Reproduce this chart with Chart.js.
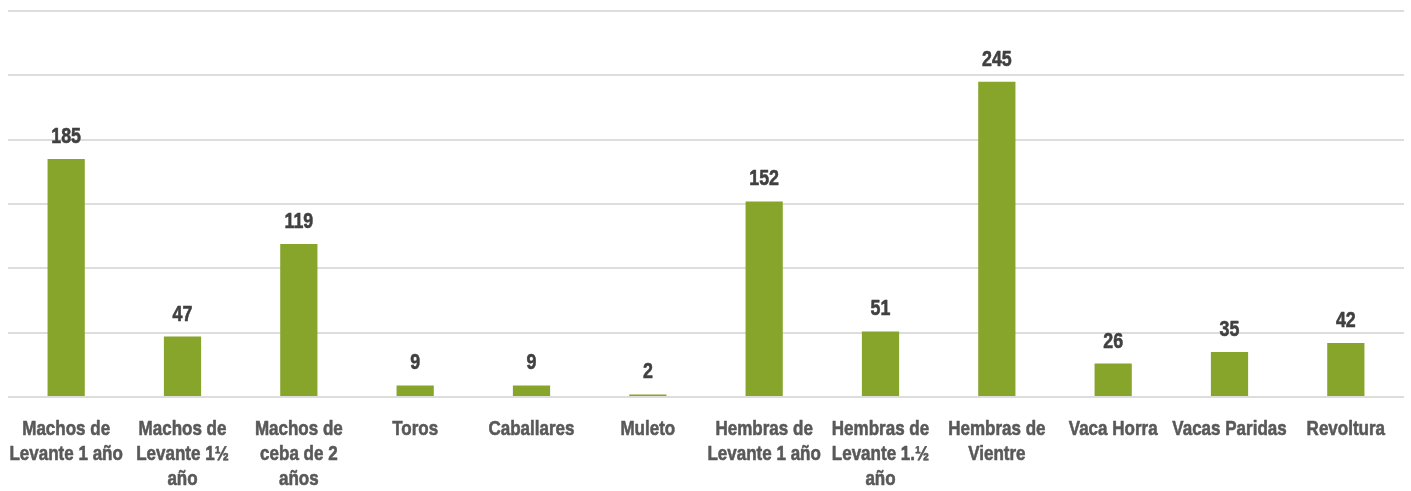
<!DOCTYPE html>
<html lang="es">
<head>
<meta charset="utf-8" />
<title>Inventario bovino</title>
<script src="https://cdn.jsdelivr.net/npm/chart.js@4.4.1/dist/chart.umd.min.js"></script>
<style>
  html, body { margin: 0; padding: 0; background: #fff; }
  #wrap { width: 1411px; height: 491px; }
</style>
</head>
<body>
<div id="wrap"><canvas id="grafico" width="1411" height="491"></canvas></div>
<script>
// categorias (multilinea como en el original)
var categorias = [
  ["Machos de", "Levante 1 año"],
  ["Machos de", "Levante 1½", "año"],
  ["Machos de", "ceba de 2", "años"],
  ["Toros"],
  ["Caballares"],
  ["Muleto"],
  ["Hembras de", "Levante 1 año"],
  ["Hembras de", "Levante 1.½", "año"],
  ["Hembras de", "Vientre"],
  ["Vaca Horra"],
  ["Vacas Paridas"],
  ["Revoltura"]
];
var cantidades = [185, 47, 119, 9, 9, 2, 152, 51, 245, 26, 35, 42];
var ejeMin = 0, ejeMax = 300, paso = 50;

var fuente = "'Liberation Sans', Arial, sans-serif";
var estrecho = 0.81; // la fuente original es condensada

// texto condensado: se dibuja con escala horizontal y un trazo fino para engrosar
function textoEstrecho(ctx, txt, x, y) {
  ctx.save();
  ctx.translate(x, y);
  ctx.scale(estrecho, 1);
  ctx.fillText(txt, 0, 0);
  ctx.strokeText(txt, 0, 0);
  ctx.restore();
}

var textos = {
  id: 'textos',
  afterDatasetsDraw: function(chart) {
    var ctx = chart.ctx;
    var meta = chart.getDatasetMeta(0);
    var ejeX = chart.scales.x;
    var base = chart.chartArea.bottom;
    ctx.save();
    ctx.textAlign = 'center';
    ctx.textBaseline = 'alphabetic';
    ctx.lineWidth = 0.6;
    ctx.lineJoin = 'round';
    // valores encima de las barras
    ctx.font = 'bold 22px ' + fuente;
    ctx.fillStyle = ctx.strokeStyle = '#404040';
    meta.data.forEach(function(bar, i) {
      textoEstrecho(ctx, String(cantidades[i]), bar.x, bar.y - 16);
    });
    // etiquetas de categoria
    ctx.font = 'bold 21px ' + fuente;
    ctx.fillStyle = ctx.strokeStyle = '#595959';
    categorias.forEach(function(lineas, i) {
      var x = ejeX.getPixelForValue(i);
      lineas.forEach(function(l, j) {
        textoEstrecho(ctx, l, x, base + 38 + j * 25);
      });
    });
    ctx.restore();
  }
};

new Chart(document.getElementById('grafico').getContext('2d'), {
  type: 'bar',
  data: {
    labels: categorias.map(function(c) { return c.join(' '); }),
    datasets: [{
      data: cantidades,
      backgroundColor: '#87a42b',
      borderWidth: 0,
      barPercentage: 0.5,
      categoryPercentage: 0.64
    }]
  },
  options: {
    responsive: false,
    animation: false,
    layout: { padding: { left: 8, right: 7, top: 11, bottom: 0 } },
    plugins: {
      legend: { display: false },
      tooltip: { enabled: false }
    },
    scales: {
      x: {
        grid: { display: false },
        border: { display: false },
        ticks: { display: false },
        afterFit: function(axis) { axis.height = 94; axis.paddingLeft = 0; axis.paddingRight = 0; }
      },
      y: {
        min: ejeMin,
        max: ejeMax,
        ticks: { display: false, stepSize: paso },
        grid: { color: '#dddddd', lineWidth: 2, drawTicks: false },
        border: { display: false },
        afterFit: function(axis) { axis.width = 0; }
      }
    }
  },
  plugins: [textos]
});
</script>
</body>
</html>
